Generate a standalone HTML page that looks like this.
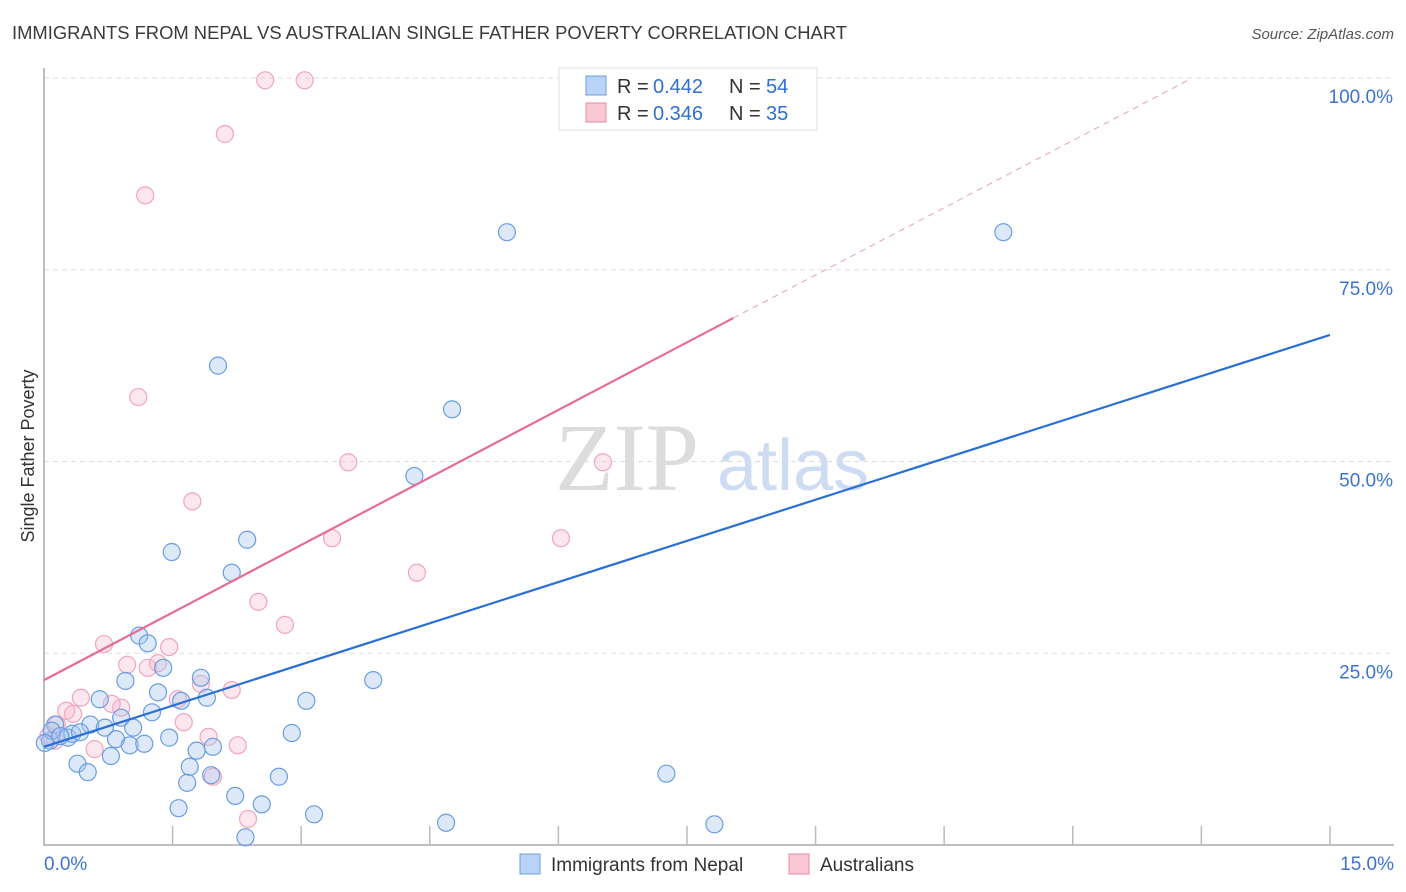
<!DOCTYPE html>
<html><head><meta charset="utf-8">
<style>
body{margin:0;background:#fff;font-family:"Liberation Sans",sans-serif;}
svg{display:block}
</style></head>
<body>
<svg id="chart" width="1406" height="892" xmlns="http://www.w3.org/2000/svg">
<text x="12" y="39" font-size="18.3" fill="#3a3a3a" font-family="Liberation Sans, sans-serif" textLength="835" lengthAdjust="spacingAndGlyphs">IMMIGRANTS FROM NEPAL VS AUSTRALIAN SINGLE FATHER POVERTY CORRELATION CHART</text>
<text x="1394" y="39" font-size="15" fill="#555" font-style="italic" text-anchor="end">Source: ZipAtlas.com</text>
<g id="grid"></g>
<text x="555" y="490" font-size="96" fill="#dcdcdc" font-family="Liberation Serif, serif">ZIP</text>
<text x="717" y="490" font-size="72" fill="#cddcf2" font-family="Liberation Sans, sans-serif">atlas</text>
<g id="points"></g>
<g id="lines"></g>
<text transform="translate(34,456) rotate(-90)" font-size="18" fill="#333" text-anchor="middle">Single Father Poverty</text>
<g>
<rect x="559" y="68" width="258" height="62" fill="#fff" stroke="#ddd"/>
<rect x="586" y="76" width="20" height="19" fill="#b8d3f5" stroke="#6a9fe0"/>
<rect x="586" y="103" width="20" height="19" fill="#f9c6d4" stroke="#e88aa6"/>
<text x="617" y="93" font-size="20" fill="#333">R =</text>
<text x="653" y="93" font-size="20" fill="#2f6fd6">0.442</text>
<text x="729" y="93" font-size="20" fill="#333">N =</text>
<text x="766" y="93" font-size="20" fill="#2f6fd6">54</text>
<text x="617" y="120" font-size="20" fill="#333">R =</text>
<text x="653" y="120" font-size="20" fill="#2f6fd6">0.346</text>
<text x="729" y="120" font-size="20" fill="#333">N =</text>
<text x="766" y="120" font-size="20" fill="#2f6fd6">35</text>
</g>
<g>
<rect x="520" y="854" width="20" height="20" fill="#b8d3f5" stroke="#6a9fe0"/>
<text x="551" y="871" font-size="19" fill="#333">Immigrants from Nepal</text>
<rect x="789" y="854" width="20" height="20" fill="#f9c6d4" stroke="#e88aa6"/>
<text x="820" y="871" font-size="19" fill="#333">Australians</text>
</g>
</svg>
<script>
const xTicks=[0,1.5,3,4.5,6,7.5,9,10.5,12,13.5,15];
const yTicks=[25,50,75,100];
const yTickLabels=["25.0%","50.0%","75.0%","100.0%"];
const nepalX=[5.4,11.19,2.03,4.76,4.32,1.49,2.37,2.19,1.11,1.21,1.39,0.95,1.83,1.33,1.6,1.9,3.06,3.84,1.26,0.9,0.65,0.54,0.71,1.04,0.13,0.28,0.33,0.84,1.0,1.17,1.46,1.97,2.89,1.78,0.78,0.39,0.51,1.7,1.95,2.74,1.67,7.26,2.23,2.54,1.57,3.15,4.69,7.82,2.35,0.07,0.09,0.19,0.42,0.01];
const nepalY=[79.9,79.9,62.5,56.8,48.1,38.2,39.8,35.5,27.3,26.3,23.1,21.4,21.8,19.9,18.8,19.2,18.8,21.5,17.3,16.6,19.0,15.7,15.3,15.3,15.7,14.0,14.5,13.8,13.0,13.2,14.0,12.8,14.6,12.3,11.6,10.6,9.5,10.2,9.1,8.9,8.1,9.3,6.4,5.3,4.8,4.0,2.9,2.7,1.0,13.6,14.9,14.2,14.7,13.3];
const ausX=[2.58,3.04,2.11,1.18,1.1,3.55,6.52,1.73,3.36,6.03,4.35,2.5,2.81,0.7,1.46,0.97,1.21,1.33,1.56,1.83,2.19,0.43,0.26,0.9,0.34,0.15,0.79,1.63,1.92,0.59,2.26,1.97,2.38,0.05,0.13];
const ausY=[99.7,99.7,92.7,84.7,58.4,49.9,49.9,44.8,40.0,40.0,35.5,31.7,28.7,26.2,25.8,23.5,23.1,23.7,19.0,21.0,20.2,19.2,17.5,17.9,17.1,15.7,18.4,16.0,14.1,12.5,13.0,8.9,3.4,14.2,13.6];
const nepalLine=[12.8,66.5];
const ausLine=[21.5,68.7,8.04];
const X=v=>44+v*85.73, Y=v=>845-v*7.67;
const NS="http://www.w3.org/2000/svg";
function mk(t,a,p){const e=document.createElementNS(NS,t);for(const k in a)e.setAttribute(k,a[k]);p.appendChild(e);return e;}
const grid=document.getElementById('grid');
yTicks.forEach((t,i)=>{
 const l=mk('line',{x1:44,x2:1394,y1:Y(t),y2:Y(t),stroke:'#ddd','stroke-dasharray':'5,4'},grid);
 
 
 const tx=mk('text',{x:1393,y:Y(t)+25,'font-size':19,fill:'#3c73d4','text-anchor':'end'},grid);
 tx.textContent=yTickLabels[i];
 
 
});
const ax=mk('path',{d:'M44 68 V845 H1394',fill:'none',stroke:'#aaa','stroke-width':1.5},grid);


xTicks.forEach((t,i)=>{if(i==0)return;
 const l=mk('line',{x1:X(t),x2:X(t),y1:826,y2:845,stroke:'#bbb','stroke-width':1.5},grid);
 
 
});
const xl0=mk('text',{x:44,y:870,'font-size':19,fill:'#3c73d4'},grid);xl0.textContent='0.0%';


const xl1=mk('text',{x:1394,y:870,'font-size':19,fill:'#3c73d4','text-anchor':'end'},grid);xl1.textContent='15.0%';


const pts=document.getElementById('points');
ausX.forEach((x,i)=>{const c=mk('circle',{cx:X(x),cy:Y(ausY[i]),r:8.5,fill:'rgba(248,185,205,0.35)',stroke:'#f0a5bd','stroke-width':1.2},pts);
 
 });
nepalX.forEach((x,i)=>{const c=mk('circle',{cx:X(x),cy:Y(nepalY[i]),r:8.5,fill:'rgba(165,198,240,0.38)',stroke:'#6a9de2','stroke-width':1.2},pts);
 
 });
const ln=document.getElementById('lines');
const b=mk('line',{x1:X(0),y1:Y(nepalLine[0]),x2:X(15),y2:Y(nepalLine[1]),stroke:'#2a6fd6','stroke-width':2.2},ln);


const s=(ausLine[1]-ausLine[0])/ausLine[2];
const p=mk('line',{x1:X(0),y1:Y(ausLine[0]),x2:X(ausLine[2]),y2:Y(ausLine[1]),stroke:'#e86b94','stroke-width':2.2},ln);


const xe=(100-ausLine[0])/s;
const pd=mk('line',{x1:X(ausLine[2]),y1:Y(ausLine[1]),x2:X(xe),y2:Y(100)+1,stroke:'#e8a0b8','stroke-width':1,'stroke-dasharray':'6,5'},ln);


</script>
</body></html>
